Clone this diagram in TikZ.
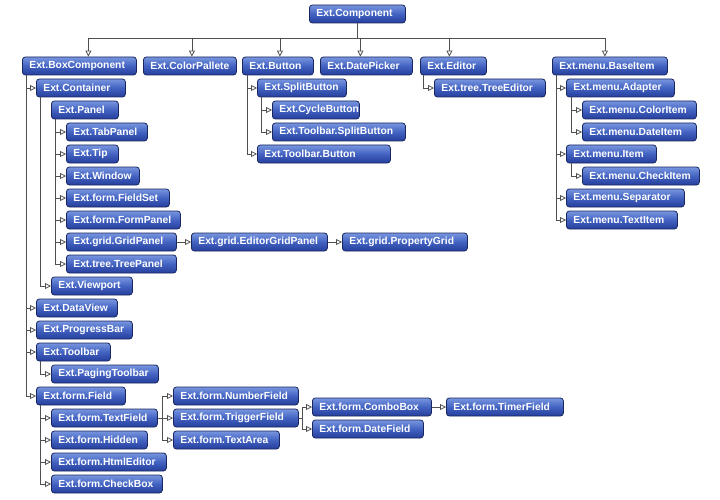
\documentclass[tikz,border=0pt]{standalone}
\usepackage{fontspec}
\setmainfont{Liberation Sans}
\usetikzlibrary{calc,arrows.meta}

\definecolor{boxtop}{HTML}{7896DE}
\definecolor{boxmid}{HTML}{4262C2}
\definecolor{boxbot}{HTML}{263E9C}
\definecolor{boxline}{HTML}{1A275F}
\definecolor{wire}{HTML}{505050}

\tikzset{
  cls/.style={draw=boxline, line width=0.8pt, rounded corners=3pt,
    top color=boxtop, bottom color=boxbot, middle color=boxmid,
    text=white, font=\bfseries\fontsize{10.3}{12}\selectfont,
    anchor=west, inner xsep=7pt, inner ysep=0pt, minimum height=18pt,
    align=left},
  conn/.style={draw=wire, line width=0.8pt,
    -{Triangle[open,length=6pt,width=6pt]}},
  wireline/.style={draw=wire, line width=0.8pt}
}

\begin{document}
\begin{tikzpicture}[x=1pt,y=-1pt]
    \useasboundingbox (0,0) rectangle (720,500);

    % classes: name / left / right / middle row / label
    \foreach \nm/\xa/\xb/\yc/\txt in {
      comp/309/405/14/Ext.Component,
      boxcomp/22/136/66/Ext.BoxComponent,
      colorpal/143/236/66/Ext.ColorPallete,
      button/242/313/66/Ext.Button,
      datepick/320/412/66/Ext.DatePicker,
      editor/420/486/66/Ext.Editor,
      baseitem/552/667/66/Ext.menu.BaseItem,
      container/36/125/88/Ext.Container,
      panel/51/118/110/Ext.Panel,
      tabpanel/66/147/132/Ext.TabPanel,
      tip/66/118/154/Ext.Tip,
      window/66/139/176/Ext.Window,
      fieldset/66/169/198/Ext.form.FieldSet,
      formpanel/66/180/220/Ext.form.FormPanel,
      gridpanel/66/176/242/Ext.grid.GridPanel,
      treepanel/66/176/264/Ext.tree.TreePanel,
      viewport/51/132/286/Ext.Viewport,
      editorgrid/191/327/242/Ext.grid.EditorGridPanel,
      propgrid/342/467/242/Ext.grid.PropertyGrid,
      dataview/36/117/308/Ext.DataView,
      progress/36/132/330/Ext.ProgressBar,
      toolbar/36/110/352/Ext.Toolbar,
      pagingtb/51/158/374/Ext.PagingToolbar,
      field/36/125/396/Ext.form.Field,
      textfield/51/157/418/Ext.form.TextField,
      hidden/51/147/440/Ext.form.Hidden,
      htmled/51/166/462/Ext.form.HtmlEditor,
      checkbox/51/162/484/Ext.form.CheckBox,
      numberfield/173/298/396/Ext.form.NumberField,
      triggerfield/173/298/418/Ext.form.TriggerField,
      textarea/173/279/440/Ext.form.TextArea,
      combobox/312/431/407/Ext.form.ComboBox,
      datefield/312/423/429/Ext.form.DateField,
      timerfield/446/563/407/Ext.form.TimerField,
      splitbtn/257/346/88/Ext.SplitButton,
      cyclebtn/272/359/110/Ext.CycleButton,
      tbsplit/272/405/132/Ext.Toolbar.SplitButton,
      tbbutton/257/390/154/Ext.Toolbar.Button,
      treeeditor/434/545/88/Ext.tree.TreeEditor,
      adapter/566/674/88/Ext.menu.Adapter,
      coloritem/582/696/110/Ext.menu.ColorItem,
      dateitem/582/696/132/Ext.menu.DateItem,
      menuitem/566/656/154/Ext.menu.Item,
      checkitem/582/699/176/Ext.menu.CheckItem,
      separator/566/684/198/Ext.menu.Separator,
      textitem/566/677/220/Ext.menu.TextItem}{%
      \pgfmathsetmacro\w{\xb-\xa-14}
      \node[cls, text width=\w pt] (\nm) at (\xa,\yc) {\mbox{\txt}};
    }

    % top level: bus under Ext.Component
    \coordinate (bus) at ([yshift=-15pt]comp.south);
    \draw[wireline] (comp.south) -- (bus);
    \foreach \c/\dx in {boxcomp/9,colorpal/2,button/2,datepick/-6,editor/-4,baseitem/-5}{
      \draw[conn] (bus) -| ([xshift=\dx pt]\c.north);
    }

    % subclasses hanging from the left edge of the parent
    \foreach \p/\c/\dx in {boxcomp/container/4, boxcomp/dataview/4,
      boxcomp/progress/4, boxcomp/toolbar/4, boxcomp/field/4,
      container/viewport/4,
      panel/tabpanel/4, panel/tip/4, panel/window/4, panel/fieldset/4,
      panel/formpanel/4, panel/gridpanel/4, panel/treepanel/4,
      toolbar/pagingtb/4,
      field/textfield/4, field/hidden/4, field/htmled/4, field/checkbox/4,
      button/splitbtn/5, button/tbbutton/5,
      splitbtn/cyclebtn/4, splitbtn/tbsplit/4,
      editor/treeeditor/3,
      baseitem/adapter/4, baseitem/menuitem/4, baseitem/separator/4,
      baseitem/textitem/4,
      adapter/coloritem/5, adapter/dateitem/5,
      menuitem/checkitem/5}{
      \draw[conn] ([xshift=\dx pt]\p.south west) |- (\c);
    }

    % subclasses to the right of the parent
    \draw[conn] (gridpanel) -- (editorgrid);
    \draw[conn] (editorgrid) -- (propgrid);
    \draw[conn] (combobox) -- (timerfield);

    \coordinate (tfj) at ([xshift=5pt]textfield.east);
    \draw[wireline] (textfield.east) -- (tfj);
    \foreach \c in {numberfield,triggerfield,textarea}
      \draw[conn] (tfj) |- (\c);

    \coordinate (trj) at ([xshift=4pt]triggerfield.east);
    \draw[wireline] (triggerfield.east) -- (trj);
    \foreach \c in {combobox,datefield}
      \draw[conn] (trj) |- (\c);
\end{tikzpicture}
\end{document}
